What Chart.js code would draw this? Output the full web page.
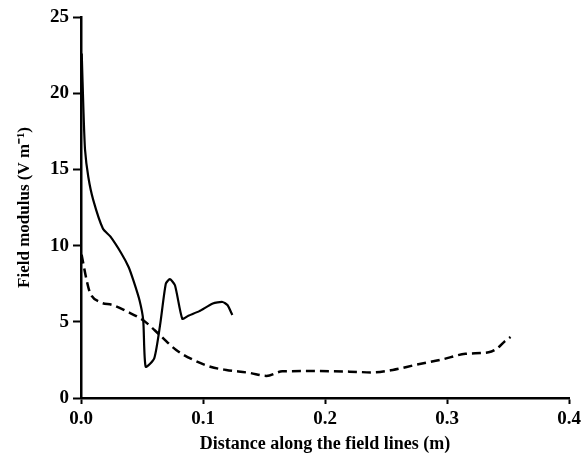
<!DOCTYPE html>
<html>
<head>
<meta charset="utf-8">
<script src="https://cdn.jsdelivr.net/npm/chart.js@4/dist/chart.umd.min.js"></script>
<style>
html,body{margin:0;padding:0;background:#fff;}
#wrap{width:585px;height:455px;position:relative;}
</style>
</head>
<body>
<div id="wrap"><canvas id="c" width="585" height="455"></canvas></div>
<script>
const solidX = [0.0006,0.002,0.0033,0.006,0.010,0.018,0.024,0.033,0.039,0.043,0.048,0.051,0.053,0.060,0.065,0.0695,0.0728,0.077,0.083,0.088,0.097,0.108,0.116,0.120,0.124];
const solidY = [22.6,18.9,16.3,14.5,13.0,11.1,10.6,9.5,8.6,7.7,6.4,5.1,2.05,2.6,4.9,7.5,7.8,7.4,5.2,5.4,5.7,6.2,6.3,6.1,5.45];
const dashX = [0.0005,0.0047,0.0074,0.0155,0.026,0.037,0.051,0.065,0.078,0.092,0.106,0.119,0.138,0.152,0.165,0.193,0.220,0.239,0.2555,0.274,0.296,0.315,0.334,0.341,0.347,0.352];
const dashY = [9.4,7.7,6.9,6.3,6.1,5.7,5.1,4.1,3.15,2.5,2.05,1.84,1.65,1.45,1.75,1.77,1.73,1.68,1.84,2.17,2.53,2.9,3.0,3.25,3.7,4.0];
const xTicks = [0, 0.1, 0.2, 0.3, 0.4];
const yTicks = [0, 5, 10, 15, 20, 25];
const xTitle = 'Distance along the field lines (m)';
const yTitle = 'Field modulus (V m\u207B\u00B9)';

const pts = (xs, ys) => xs.map((x, i) => ({x: x, y: ys[i]}));
const tickFont = {family: 'Liberation Serif', size: 19, weight: 'bold'};

new Chart(document.getElementById('c'), {
  type: 'line',
  data: {
    datasets: [
      {data: pts(solidX, solidY), borderColor: '#000', borderWidth: 2.2, pointRadius: 0, tension: 0.2, fill: false},
      {data: pts(dashX, dashY), borderColor: '#000', borderWidth: 2.5, borderDash: [9, 5], pointRadius: 0, cubicInterpolationMode: 'monotone', fill: false}
    ]
  },
  options: {
    responsive: false,
    animation: false,
    devicePixelRatio: 1,
    layout: {padding: {top: 17, right: 15, left: 6, bottom: 0}},
    plugins: {legend: {display: false}, tooltip: {enabled: false}},
    scales: {
      x: {
        type: 'linear', min: 0, max: 0.4,
        afterBuildTicks: s => { s.ticks = xTicks.map(v => ({value: v})); },
        afterFit: s => { s.height = 57; },
        grid: {display: true, drawOnChartArea: false, drawTicks: true, tickLength: 6, tickWidth: 2, tickColor: '#000'},
        border: {display: true, color: '#000', width: 2.5},
        ticks: {color: '#000', font: tickFont, padding: 4, maxRotation: 0, callback: v => v.toFixed(1)},
        title: {display: true, text: xTitle, color: '#000', font: {family: 'Liberation Serif', size: 18, weight: 'bold'}, padding: {top: 4, bottom: 0}}
      },
      y: {
        type: 'linear', min: 0, max: 25,
        afterBuildTicks: s => { s.ticks = yTicks.map(v => ({value: v})); },
        afterFit: s => { s.width = 75; },
        grid: {display: true, drawOnChartArea: false, drawTicks: true, tickLength: 8, tickWidth: 2, tickColor: '#000'},
        border: {display: true, color: '#000', width: 2.5},
        ticks: {color: '#000', font: tickFont, padding: 4},
        title: {display: true, text: yTitle, color: '#000', font: {family: 'Liberation Serif', size: 17, weight: 'bold'}, padding: {top: 8, bottom: 0}}
      }
    }
  }
});
</script>
</body>
</html>
